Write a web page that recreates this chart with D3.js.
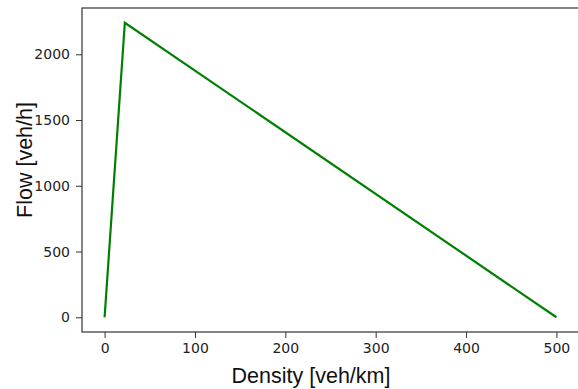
<!DOCTYPE html>
<html>
<head>
<meta charset="utf-8">
<script src="https://cdn.jsdelivr.net/npm/d3@7"></script>
<style>
  body { margin: 0; background: #fff; }
</style>
</head>
<body>
<div id="chart"></div>
<script>
// triangular fundamental diagram points
const density = [0, 22.4, 500];
const flow = [0, 2240, 0];
const xTicks = [0, 100, 200, 300, 400, 500];
const yTicks = [0, 500, 1000, 1500, 2000];

const W = 578, H = 389;
const margin = {top: 8, right: -1, bottom: 57, left: 82};
const width = W - margin.left - margin.right;
const height = H - margin.top - margin.bottom;

const svg = d3.select("#chart").append("svg")
    .attr("width", W)
    .attr("height", H);

const g = svg.append("g")
    .attr("transform", `translate(${margin.left}, ${margin.top})`);

// matplotlib style 5% margins
const x = d3.scaleLinear().domain([-25, 525]).range([0, width]);
const y = d3.scaleLinear().domain([-112, 2352]).range([height, 0]);

const pts = density.map((d, i) => ({k: d, q: flow[i]}));

const line = d3.line()
    .x(d => x(d.k))
    .y(d => y(d.q));

g.append("path")
    .datum(pts)
    .attr("fill", "none")
    .attr("stroke", "#008000")
    .attr("stroke-width", 2.2)
    .attr("d", line);

const xAxis = g.append("g")
    .attr("transform", `translate(0, ${height})`)
    .call(d3.axisBottom(x).tickValues(xTicks).tickSize(6).tickPadding(5).tickFormat(d3.format("d")));

const yAxis = g.append("g")
    .call(d3.axisLeft(y).tickValues(yTicks).tickSize(6).tickPadding(6).tickFormat(d3.format("d")));

[xAxis, yAxis].forEach(a => {
    a.attr("font-family", "DejaVu Sans, sans-serif").attr("font-size", 14);
    a.select(".domain").remove();
    a.selectAll(".tick line").attr("stroke", "#333").attr("stroke-width", 1);
    a.selectAll(".tick text").attr("fill", "#222");
});

// spines
g.append("rect")
    .attr("x", 0)
    .attr("y", 0)
    .attr("width", width)
    .attr("height", height)
    .attr("fill", "none")
    .attr("stroke", "#333")
    .attr("stroke-width", 1.2);

svg.append("text")
    .attr("x", 311)
    .attr("y", 383)
    .attr("text-anchor", "middle")
    .attr("font-family", "Liberation Sans, Arial, sans-serif")
    .attr("font-size", 21.5)
    .attr("fill", "#111")
    .text("Density [veh/km]");

svg.append("text")
    .attr("transform", "translate(32, 160) rotate(-90)")
    .attr("text-anchor", "middle")
    .attr("font-family", "Liberation Sans, Arial, sans-serif")
    .attr("font-size", 21.5)
    .attr("fill", "#111")
    .text("Flow [veh/h]");
</script>
</body>
</html>
